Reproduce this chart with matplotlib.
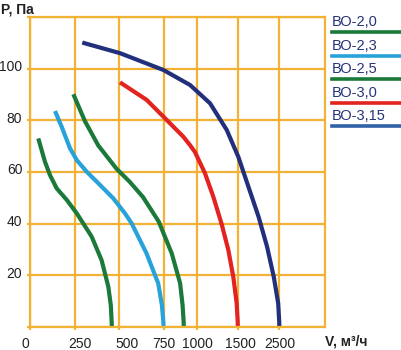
import numpy as np
import matplotlib
matplotlib.use("Agg")
import matplotlib.pyplot as plt
from matplotlib.transforms import ScaledTranslation

# ---- data (V in m3/h, P in Pa) ----
names = ["ВО-2,0", "ВО-2,3", "ВО-2,5", "ВО-3,0", "ВО-3,15"]

v_20 = [46, 83, 111, 148, 204, 260, 344, 400, 438, 452, 457, 458]
p_20 = [73.0, 64.0, 58.8, 53.7, 49.2, 44.0, 35.0, 25.9, 15.6, 8.5, 2.0, 0]

v_23 = [139, 176, 222, 260, 316, 391, 466, 532, 570, 654, 720, 741, 749, 750]
p_23 = [83.6, 77.5, 69.2, 64.6, 60.1, 55.0, 49.8, 44.0, 40.1, 28.5, 16.9, 8.5, 2.0, 0]

v_25 = [241, 306, 381, 485, 559, 634, 723, 811, 873, 891, 899, 900]
p_25 = [90.1, 79.7, 70.3, 61.2, 56.2, 50.3, 40.8, 28.5, 16.9, 8.5, 2.0, 0]

v_30 = [504, 655, 761, 896, 946, 983, 1095, 1198, 1301, 1383, 1444, 1486, 1499, 1500]
p_30 = [94.7, 87.9, 80.8, 73.7, 70.4, 67.7, 59.5, 50.4, 39.8, 29.8, 19.5, 9.2, 2.0, 0]

v_315 = [291, 504, 749, 946, 1157, 1363, 1512, 1756, 2000, 2205, 2366, 2473, 2498, 2500]
p_315 = [110.1, 106.0, 99.5, 93.7, 86.6, 76.3, 65.9, 54.3, 42.7, 31.1, 19.5, 9.2, 2.0, 0]

x_ticks = [0, 250, 500, 750, 1000, 1500, 2500]
y_ticks = [0, 20, 40, 60, 80, 100, 120]
y_labels = ["", "20", "40", "60", "80", "100", ""]

curve_colors = ["#1b7a3a", "#27a3da", "#1b7a3a", "#e2231f", "#22307c"]
legend_colors = ["#1b7a3a", "#27a3da", "#1b7a3a", "#e2231f", "#2f62a8"]

# non-uniform axis scale of the original drawing
scale_vals = [0, 250, 500, 750, 1000, 1500, 2500, 3000]
scale_pos = [30, 75, 119.3, 163.5, 197.3, 237.8, 279.3, 325]

def fwd(v):
    return np.interp(v, scale_vals, scale_pos)

def inv(p):
    return np.interp(p, scale_pos, scale_vals)

W, H = 401, 350
fig = plt.figure(figsize=(W / 100, H / 100), dpi=100)
fig.patch.set_facecolor("white")
ax = fig.add_axes([30 / W, (H - 327) / H, (325 - 30) / W, (327 - 17) / H])

ax.set_xscale("function", functions=(fwd, inv))
ax.set_xlim(0, 3000)
ax.set_ylim(0, 120)

grid_c = "#f2b233"
ax.set_axisbelow(True)
ax.grid(True, color=grid_c, linewidth=1.6)
for s in ax.spines.values():
    s.set_color(grid_c)
    s.set_linewidth(1.6)

ax.set_xticks(x_ticks)
ax.set_xticklabels([str(t) for t in x_ticks])
ax.set_yticks(y_ticks)
ax.set_yticklabels(y_labels)
ax.xaxis.set_minor_locator(matplotlib.ticker.NullLocator())
ax.tick_params(axis="both", direction="out", length=2.5, width=1.6, color=grid_c,
               labelsize=10, labelcolor="#222222")
ax.tick_params(axis="x", pad=5)
ax.tick_params(axis="y", pad=3)
for lab in ax.get_xticklabels() + ax.get_yticklabels():
    lab.set_fontfamily("Liberation Sans")
off = ScaledTranslation(0, 3 / 100, fig.dpi_scale_trans)
for lab in ax.get_yticklabels():
    lab.set_transform(lab.get_transform() + off)
x_label_shift = [-5, 5, 8, 0, 0, 3, 1]
for lab, dx in zip(ax.get_xticklabels(), x_label_shift):
    lab.set_transform(lab.get_transform() + ScaledTranslation(dx / 100, 0, fig.dpi_scale_trans))

series = [(v_20, p_20), (v_23, p_23), (v_25, p_25), (v_30, p_30), (v_315, p_315)]
for (vv, pp), c in zip(series, curve_colors):
    ax.plot(vv, pp, color=c, linewidth=3.0, solid_capstyle="butt", solid_joinstyle="round")

# axis titles
fig.text(1 / W, 1 - 9 / H, "P, Па", fontsize=10, fontweight="bold", color="#222222",
         family="Liberation Sans", va="center", ha="left")
fig.text(325 / W, 1 - 342 / H, "V, м³/ч", fontsize=10, fontweight="bold", color="#222222",
         family="Liberation Sans", va="center", ha="left")

# legend drawn at right
for i, (nm, c) in enumerate(zip(names, legend_colors)):
    ty = 22 + i * 23.6
    ly = 32 + i * 23.6
    fig.text(332 / W, 1 - ty / H, nm, fontsize=10.5, color="#26337a",
             family="Liberation Sans", va="center", ha="left")
    fig.add_artist(plt.Line2D([332 / W, 1.0], [1 - ly / H, 1 - ly / H],
                              transform=fig.transFigure, color=c, linewidth=2.6))

fig.savefig("out.png", dpi=100)
